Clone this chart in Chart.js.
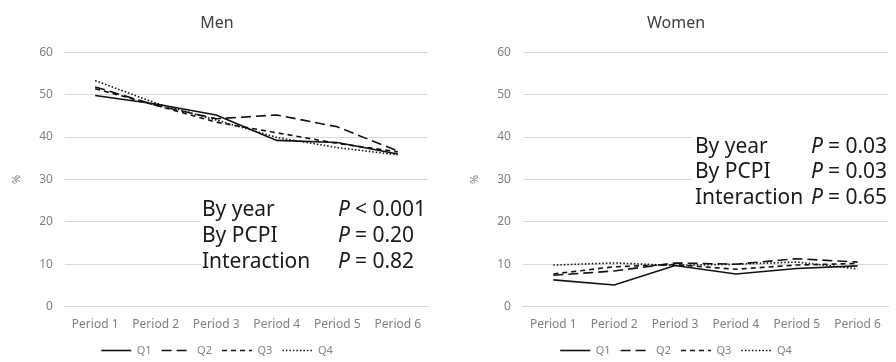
<!DOCTYPE html>
<html>
<head>
<meta charset="utf-8">
<script src="https://cdn.jsdelivr.net/npm/chart.js@4.4.0/dist/chart.umd.min.js"></script>
<style>
  body { margin: 0; background: #fff; }
  #wrap { position: relative; width: 896px; height: 362px; }
  .box { position: absolute; top: 0; height: 362px; }
</style>
</head>
<body>
<div id="wrap">
  <div class="box" style="left:0;width:436px;"><canvas id="men"></canvas></div>
  <div class="box" style="left:458px;width:438px;"><canvas id="women"></canvas></div>
</div>
<script>
/** data **/
const periods = ["Period 1", "Period 2", "Period 3", "Period 4", "Period 5", "Period 6"];
const seriesNames = ["Q1", "Q2", "Q3", "Q4"];

const menQ1 = [49.8, 47.8, 45.2, 39.2, 38.7, 36.0];
const menQ2 = [51.8, 47.5, 44.3, 45.2, 42.4, 36.7];
const menQ3 = [51.4, 47.5, 43.5, 41.0, 38.5, 36.5];
const menQ4 = [53.3, 48.0, 44.0, 39.9, 37.5, 35.8];

const womenQ1 = [6.3, 5.1, 9.7, 7.7, 9.0, 9.6];
const womenQ2 = [7.4, 8.4, 10.3, 10.0, 11.3, 10.5];
const womenQ3 = [7.7, 9.4, 9.9, 8.8, 9.8, 10.2];
const womenQ4 = [9.8, 10.3, 9.7, 10.0, 10.5, 8.9];

const yTicks = [0, 10, 20, 30, 40, 50, 60];

const statLabels = ["By year", "By PCPI", "Interaction"];
const menP = ["< 0.001", "= 0.20", "= 0.82"];
const womenP = ["= 0.03", "= 0.03", "= 0.65"];

const dashes = [[], [10, 5], [5, 4], [1.5, 2]];
const FONT = "'Noto Sans', sans-serif";

/** P-value text block drawn over the plot **/
const statsPlugin = {
  id: "stats",
  afterDatasetsDraw(chart, args, opts) {
    const ctx = chart.ctx;
    const a = chart.chartArea;
    ctx.save();
    ctx.fillStyle = "#fff";
    ctx.fillRect(a.left + opts.boxX, opts.boxTop, a.right - a.left - opts.boxX + 10, opts.boxH);
    ctx.fillStyle = "#1a1a1a";
    ctx.textBaseline = "middle";
    for (let i = 0; i < statLabels.length; i++) {
      const y = opts.y0 + i * opts.step;
      ctx.font = "21px " + FONT;
      ctx.fillText(statLabels[i], a.left + opts.textX, y);
      ctx.font = "italic 21px " + FONT;
      ctx.fillText("P", a.left + opts.pX, y);
      ctx.font = "21px " + FONT;
      ctx.fillText(opts.values[i], a.left + opts.pX + opts.gap, y);
    }
    ctx.restore();
  }
};

function makeChart(id, title, data, stats) {
  const datasets = data.map(function(values, i) {
    return {
      label: seriesNames[i],
      data: values,
      borderColor: "#111",
      backgroundColor: "#111",
      borderWidth: 1.6,
      borderDash: dashes[i],
      pointRadius: 0,
      tension: 0
    };
  });
  return new Chart(document.getElementById(id), {
    type: "line",
    data: { labels: periods, datasets: datasets },
    plugins: [statsPlugin],
    options: {
      responsive: true,
      maintainAspectRatio: false,
      animation: false,
      layout: { padding: { left: 6, right: 8, top: 6, bottom: -4 } },
      plugins: {
        title: {
          display: true,
          text: title,
          color: "#404040",
          font: { family: FONT, size: 16, weight: "normal" },
          padding: { top: 8, bottom: 19 }
        },
        legend: {
          position: "bottom",
          labels: {
            usePointStyle: true,
            pointStyle: "line",
            pointStyleWidth: 30,
            boxHeight: 6,
            padding: 10,
            color: "#808080",
            font: { family: FONT, size: 11 },
            generateLabels: function(chart) {
              const items = Chart.defaults.plugins.legend.labels.generateLabels(chart);
              items.forEach(function(it) {
                const ds = chart.data.datasets[it.datasetIndex];
                it.lineDash = ds.borderDash;
                it.lineWidth = 1.6;
                it.strokeStyle = "#111";
              });
              return items;
            }
          }
        },
        tooltip: { enabled: false },
        stats: stats
      },
      scales: {
        x: {
          offset: true,
          grid: { display: false },
          border: { color: "#d9d9d9" },
          ticks: { color: "#808080", font: { family: FONT, size: 12 }, padding: 3, maxRotation: 0 }
        },
        y: {
          min: 0,
          max: 60,
          afterBuildTicks: function(scale) {
            scale.ticks = yTicks.map(function(v) { return { value: v }; });
          },
          grid: { color: "#d9d9d9", drawTicks: false },
          border: { display: false },
          title: { display: true, text: "%", color: "#808080", font: { family: FONT, size: 11 }, padding: 4 },
          ticks: { color: "#808080", font: { family: FONT, size: 12 }, padding: 12 }
        }
      }
    }
  });
}

makeChart("men", "Men", [menQ1, menQ2, menQ3, menQ4],
  { values: menP, textX: 137, pX: 273, gap: 17, y0: 210, step: 26, boxX: 136, boxTop: 190, boxH: 92 });
makeChart("women", "Women", [womenQ1, womenQ2, womenQ3, womenQ4],
  { values: womenP, textX: 172, pX: 288, gap: 17, y0: 147, step: 25.5, boxX: 170, boxTop: 128, boxH: 82 });
</script>
</body>
</html>
